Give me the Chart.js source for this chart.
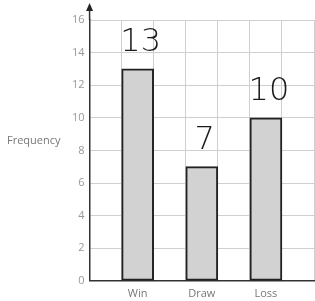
<!DOCTYPE html>
<html>
<head>
<meta charset="utf-8">
<script src="https://cdn.jsdelivr.net/npm/chart.js@4/dist/chart.umd.min.js"></script>
<style>
  body { margin: 0; background: #fff; }
  #wrap { width: 315px; height: 301px; position: relative; }
</style>
</head>
<body>
<div id="wrap"><canvas id="results"></canvas></div>
<script>
const categories = ['Win', 'Draw', 'Loss'];
const frequency = [13, 7, 10];
const yTicks = [0, 2, 4, 6, 8, 10, 12, 14, 16];

// blank columns between the bars, like the squared paper
const slots = [''];
const slotData = [null];
categories.forEach((c, i) => {
  slots.push(c, '');
  slotData.push(frequency[i], null);
});

const extras = {
  id: 'extras',
  afterDraw(chart) {
    const ctx = chart.ctx;
    const area = chart.chartArea;
    ctx.save();
    // arrow on the y axis
    ctx.strokeStyle = '#333';
    ctx.lineWidth = 1.5;
    ctx.beginPath();
    ctx.moveTo(area.left, area.top);
    ctx.lineTo(area.left, 6);
    ctx.stroke();
    ctx.fillStyle = '#222';
    ctx.beginPath();
    ctx.moveTo(area.left, 3);
    ctx.lineTo(area.left - 3.5, 11);
    ctx.lineTo(area.left + 3.5, 11);
    ctx.closePath();
    ctx.fill();

    // axis title, horizontal
    ctx.fillStyle = '#777';
    ctx.font = '11px "Open Sans"';
    ctx.textAlign = 'left';
    ctx.textBaseline = 'middle';
    ctx.fillText('Frequency', 7, 141);

    // handwritten-style values above bars
    const meta = chart.getDatasetMeta(0);
    ctx.fillStyle = '#1a1a1a';
    ctx.font = '200 32px "DejaVu Sans"';
    ctx.textAlign = 'center';
    ctx.textBaseline = 'middle';
    meta.data.forEach((bar, i) => {
      const v = slotData[i];
      if (v == null) return;
      ctx.fillText(String(v), bar.x + 3, bar.y - 26);
    });
    ctx.restore();
  }
};

new Chart(document.getElementById('results'), {
  type: 'bar',
  data: {
    labels: slots,
    datasets: [{
      data: slotData,
      backgroundColor: '#d2d2d2',
      borderColor: '#222',
      borderWidth: 2,
      borderSkipped: false,
      barPercentage: 1,
      categoryPercentage: 1
    }]
  },
  options: {
    responsive: true,
    maintainAspectRatio: false,
    animation: false,
    layout: { padding: { top: 20, left: 67, right: 1, bottom: -5 } },
    plugins: { legend: { display: false }, tooltip: { enabled: false } },
    scales: {
      x: {
        offset: true,
        grid: { offset: true, color: '#cfcfcf', drawTicks: false },
        border: { color: '#333', width: 1.5 },
        ticks: { color: '#777', font: { family: 'Open Sans', size: 11 }, padding: 6, maxRotation: 0, autoSkip: false }
      },
      y: {
        min: 0,
        max: 16,
        afterBuildTicks: (axis) => { axis.ticks = yTicks.map(v => ({ value: v })); },
        grid: { color: '#cfcfcf', drawTicks: false },
        border: { color: '#333', width: 1.5 },
        ticks: { color: '#999', font: { family: 'Open Sans', size: 11 }, padding: 5 }
      }
    }
  },
  plugins: [extras]
});
</script>
</body>
</html>
